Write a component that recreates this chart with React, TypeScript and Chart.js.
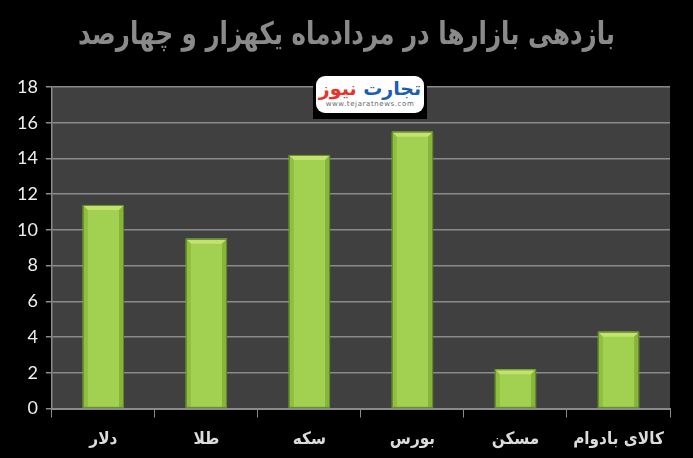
import React, { useEffect, useRef } from "react";
import { Chart, registerables } from "chart.js";

Chart.register(...registerables);

const titleText = "بازدهی بازارها در مردادماه یکهزار و چهارصد";
const categories = ["دلار", "طلا", "سکه", "بورس", "مسکن", "کالای بادوام"];
const values = [11.4, 9.5, 14.2, 15.5, 2.2, 4.3];
const yMin = 0;
const yMax = 18;
const yStep = 2;

const plotBg = {
  id: "plotBg",
  beforeDraw(chart: any) {
    const { ctx, chartArea } = chart;
    ctx.save();
    ctx.fillStyle = "#404040";
    ctx.fillRect(chartArea.left, chartArea.top, chartArea.right - chartArea.left, chartArea.bottom - chartArea.top);
    ctx.restore();
  },
};

const bevel = {
  id: "bevel",
  afterDatasetsDraw(chart: any) {
    const { ctx } = chart;
    const meta = chart.getDatasetMeta(0);
    meta.data.forEach((bar: any) => {
      const { x, y, base, width } = bar.getProps(["x", "y", "base", "width"], true);
      const l = x - width / 2;
      const r = x + width / 2;
      const b = 5;
      ctx.save();
      ctx.fillStyle = "#c2e46e";
      ctx.beginPath();
      ctx.moveTo(l, y);
      ctx.lineTo(r, y);
      ctx.lineTo(r - b, y + b);
      ctx.lineTo(l + b, y + b);
      ctx.closePath();
      ctx.fill();
      ctx.fillStyle = "#8fbf3e";
      ctx.beginPath();
      ctx.moveTo(l, y);
      ctx.lineTo(l + b, y + b);
      ctx.lineTo(l + b, base);
      ctx.lineTo(l, base);
      ctx.closePath();
      ctx.fill();
      ctx.fillStyle = "#86b53a";
      ctx.beginPath();
      ctx.moveTo(r, y);
      ctx.lineTo(r - b, y + b);
      ctx.lineTo(r - b, base);
      ctx.lineTo(r, base);
      ctx.closePath();
      ctx.fill();
      ctx.strokeStyle = "#5f8a25";
      ctx.lineWidth = 1;
      ctx.strokeRect(l + 0.5, y + 0.5, width - 1, base - y - 1);
      ctx.restore();
    });
  },
};

export default function App() {
  const ref = useRef<HTMLCanvasElement>(null);
  useEffect(() => {
    document.body.style.margin = "0";
    const chart = new Chart(ref.current!, {
      type: "bar",
      data: {
        labels: categories,
        datasets: [
          {
            data: values,
            backgroundColor: "#a2d152",
            borderWidth: 0,
            barPercentage: 0.4,
            categoryPercentage: 1,
          },
        ],
      },
      options: {
        animation: false,
        responsive: false,
        maintainAspectRatio: false,
        layout: { padding: { left: 9, right: 23, top: 87, bottom: -4 } },
        plugins: {
          legend: { display: false },
          tooltip: { enabled: false },
          title: { display: false },
        },
        scales: {
          x: {
            grid: {
              display: true,
              drawOnChartArea: false,
              drawTicks: true,
              tickLength: 9,
              color: "#8a8a8a",
              offset: true,
            },
            border: { display: true, color: "#8a8a8a", width: 2 },
            ticks: {
              color: "#dcdcdc",
              font: { family: "DejaVu Sans Condensed", size: 17, weight: "bold" },
              padding: 12,
              maxRotation: 0,
              minRotation: 0,
              autoSkip: false,
            },
          },
          y: {
            min: yMin,
            max: yMax,
            ticks: {
              stepSize: yStep,
              color: "#eeeeee",
              font: { family: "Lato", size: 18 },
              padding: 8,
            },
            grid: { color: "#8a8a8a", lineWidth: 1.5, tickLength: 6 },
            border: { display: true, color: "#8a8a8a", width: 1.5 },
          },
        },
      },
      plugins: [plotBg, bevel],
    });
    return () => chart.destroy();
  }, []);
  return (
    <div style={{ position: "fixed", left: 0, top: 0, width: 693, height: 458, background: "#000" }}>
      <canvas ref={ref} width={693} height={458} style={{ display: "block" }} />
      <div
        style={{
          position: "absolute",
          left: 0,
          top: 13,
          width: 693,
          textAlign: "center",
          fontFamily: "DejaVu Sans Condensed",
          fontWeight: "bold",
          fontSize: 31,
          lineHeight: "40px",
          color: "#8a8a8a",
          direction: "rtl",
          transform: "scaleX(0.88)",
          whiteSpace: "nowrap",
        }}
      >
        {titleText}
      </div>
      <div
        style={{
          position: "absolute",
          left: 313,
          top: 70,
          width: 114,
          height: 49,
          background: "#000",
        }}
      >
        <div
          style={{
            position: "absolute",
            left: 3,
            top: 6,
            width: 108,
            height: 37,
            background: "#fff",
            borderRadius: 9,
            textAlign: "center",
            fontFamily: "DejaVu Sans",
          }}
        >
          <div style={{ fontSize: 19, fontWeight: "bold", lineHeight: "24px", marginTop: 0, direction: "rtl", whiteSpace: "nowrap" }}>
            <span style={{ color: "#1b5fae" }}>تجارت </span>
            <span style={{ color: "#e8332b" }}>نیوز</span>
          </div>
          <div style={{ fontSize: 7, color: "#666", lineHeight: "9px", letterSpacing: 0.6 }}>www.tejaratnews.com</div>
        </div>
      </div>
    </div>
  );
}
